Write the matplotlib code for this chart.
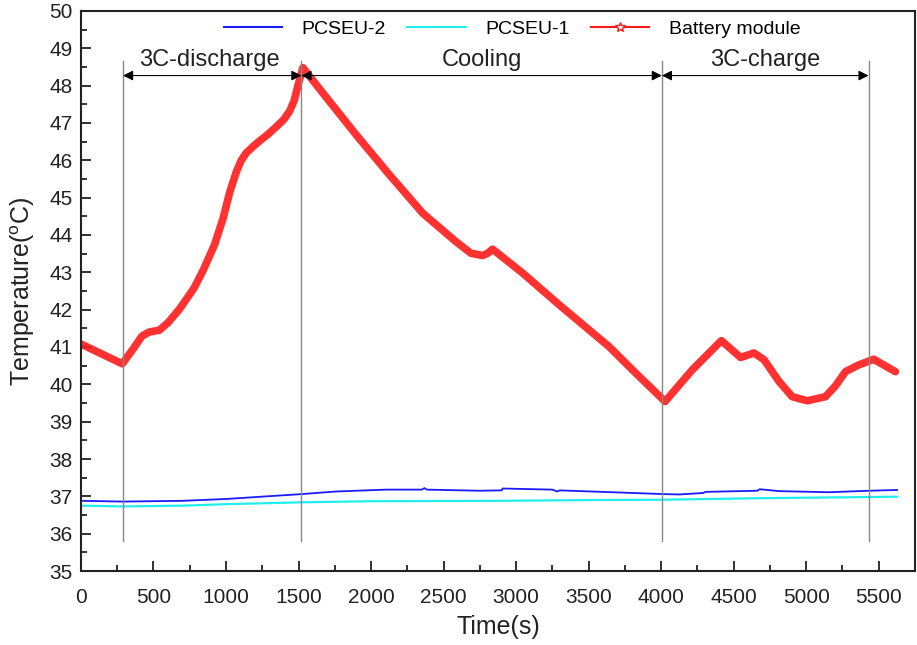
import matplotlib
matplotlib.use("Agg")
import matplotlib.pyplot as plt
from matplotlib.lines import Line2D
from matplotlib.ticker import MultipleLocator

plt.rcParams["font.family"] = ["Liberation Sans", "DejaVu Sans"]
plt.rcParams["mathtext.fontset"] = "custom"
plt.rcParams["mathtext.rm"] = "Liberation Sans"

# ── Data ──────────────────────────────────────────────────────────────────────
bat_t = [0, 285, 360, 420, 470, 540, 600, 680, 780, 842, 922, 980, 1026, 1072,
         1105, 1140, 1190, 1232, 1290, 1347, 1400, 1439, 1470, 1496, 1530,
         1668, 1898, 2127, 2357, 2586, 2689, 2769, 2804, 2838, 3045, 3297, 3641,
         3825, 4027, 4215, 4415, 4548, 4640, 4709, 4812, 4903, 5007, 5133,
         5200, 5271, 5362, 5466, 5615]
bat_T = [41.08, 40.55, 40.95, 41.29, 41.40, 41.45, 41.65, 42.02, 42.58, 43.05,
         43.75, 44.45, 45.15, 45.70, 46.00, 46.20, 46.38, 46.52, 46.70, 46.90,
         47.10, 47.32, 47.60, 48.00, 48.48, 47.80, 46.68, 45.61, 44.58, 43.82,
         43.51, 43.45, 43.51, 43.62, 42.98, 42.13, 41.01, 40.30, 39.54, 40.39,
         41.17, 40.72, 40.84, 40.66, 40.08, 39.67, 39.56, 39.67, 39.95, 40.34,
         40.52, 40.67, 40.34]

pc2_t = [0, 290, 700, 1003, 1520, 1760, 2104, 2350, 2368, 2385, 2747, 2900,
         2907, 3251, 3283, 3300, 3664, 4020, 4123, 4290, 4307, 4662, 4680,
         4812, 5156, 5431, 5626]
pc2_T = [36.88, 36.86, 36.88, 36.93, 37.06, 37.13, 37.18, 37.18, 37.22, 37.18,
         37.15, 37.16, 37.21, 37.18, 37.13, 37.16, 37.11, 37.06, 37.05, 37.09,
         37.12, 37.15, 37.19, 37.14, 37.11, 37.15, 37.17]

pc1_t = [0, 290, 700, 1000, 1520, 2000, 2884, 3500, 4020, 4674, 5626]
pc1_T = [36.75, 36.73, 36.75, 36.79, 36.84, 36.87, 36.88, 36.90, 36.91, 36.95, 36.99]

phase_edges = [290, 1520, 4005, 5430]
phase_names = ["3C-discharge", "Cooling", "3C-charge"]

# ── Plot ─────────────────────────────────────────────────────────────────────
fig = plt.figure(figsize=(9.17, 6.45), dpi=100)
ax = fig.add_axes([0.0883, 0.1147, 0.9095, 0.8683])

ax.plot(pc2_t, pc2_T, color="#1a1aff", lw=1.3)
ax.plot(pc1_t, pc1_T, color="#22eeee", lw=1.6)
ax.plot(bat_t, bat_T, color="#ff1a1a", lw=5.5, alpha=0.9,
        solid_capstyle="round", solid_joinstyle="round")

# phase markers
for x in phase_edges:
    ax.plot([x, x], [35.8, 48.65], color="#888888", lw=1.0)
for i, name in enumerate(phase_names):
    x0, x1 = phase_edges[i], phase_edges[i + 1]
    ax.annotate("", xy=(x1, 48.27), xytext=(x0, 48.27),
                arrowprops=dict(arrowstyle="<|-|>", color="black", lw=0.8,
                                mutation_scale=15, shrinkA=0, shrinkB=0))
    ax.text((x0 + x1) / 2 - 20 * (i == 0), 48.38, name, ha="center",
            va="bottom", fontsize=17, color="#222222")

ax.set_xlim(0, 5750)
ax.set_ylim(35, 50)
ax.xaxis.set_major_locator(MultipleLocator(500))
ax.xaxis.set_minor_locator(MultipleLocator(250))
ax.yaxis.set_major_locator(MultipleLocator(1))
ax.yaxis.set_minor_locator(MultipleLocator(0.5))
ax.tick_params(which="both", direction="in", top=False, right=False,
               labelsize=15, width=1.3, colors="#222222")
ax.tick_params(which="major", length=7)
ax.tick_params(which="minor", length=4)
ax.tick_params(axis="x", which="major", pad=12)
ax.tick_params(axis="y", which="major", pad=6)
for s in ax.spines.values():
    s.set_linewidth(1.5)
    s.set_color("#222222")

ax.set_xlabel("Time(s)", fontsize=18, color="#222222", labelpad=6)
ax.set_ylabel(r"Temperature($^{\rm o}$C)", fontsize=18, color="#222222",
              labelpad=9)

handles = [
    Line2D([], [], color="#1a1aff", lw=1.5),
    Line2D([], [], color="#22eeee", lw=1.5),
    Line2D([], [], color="#ff1a1a", lw=1.5, marker="*", markersize=7,
           markerfacecolor="white", markeredgecolor="#ff1a1a"),
]
ax.legend(handles, ["PCSEU-2", "PCSEU-1", "Battery module"], ncol=3,
          loc="upper center", bbox_to_anchor=(0.517, 1.015), frameon=False,
          fontsize=14, handlelength=3.0, columnspacing=1.1, handletextpad=1.0)

fig.savefig("out.png", dpi=100)
